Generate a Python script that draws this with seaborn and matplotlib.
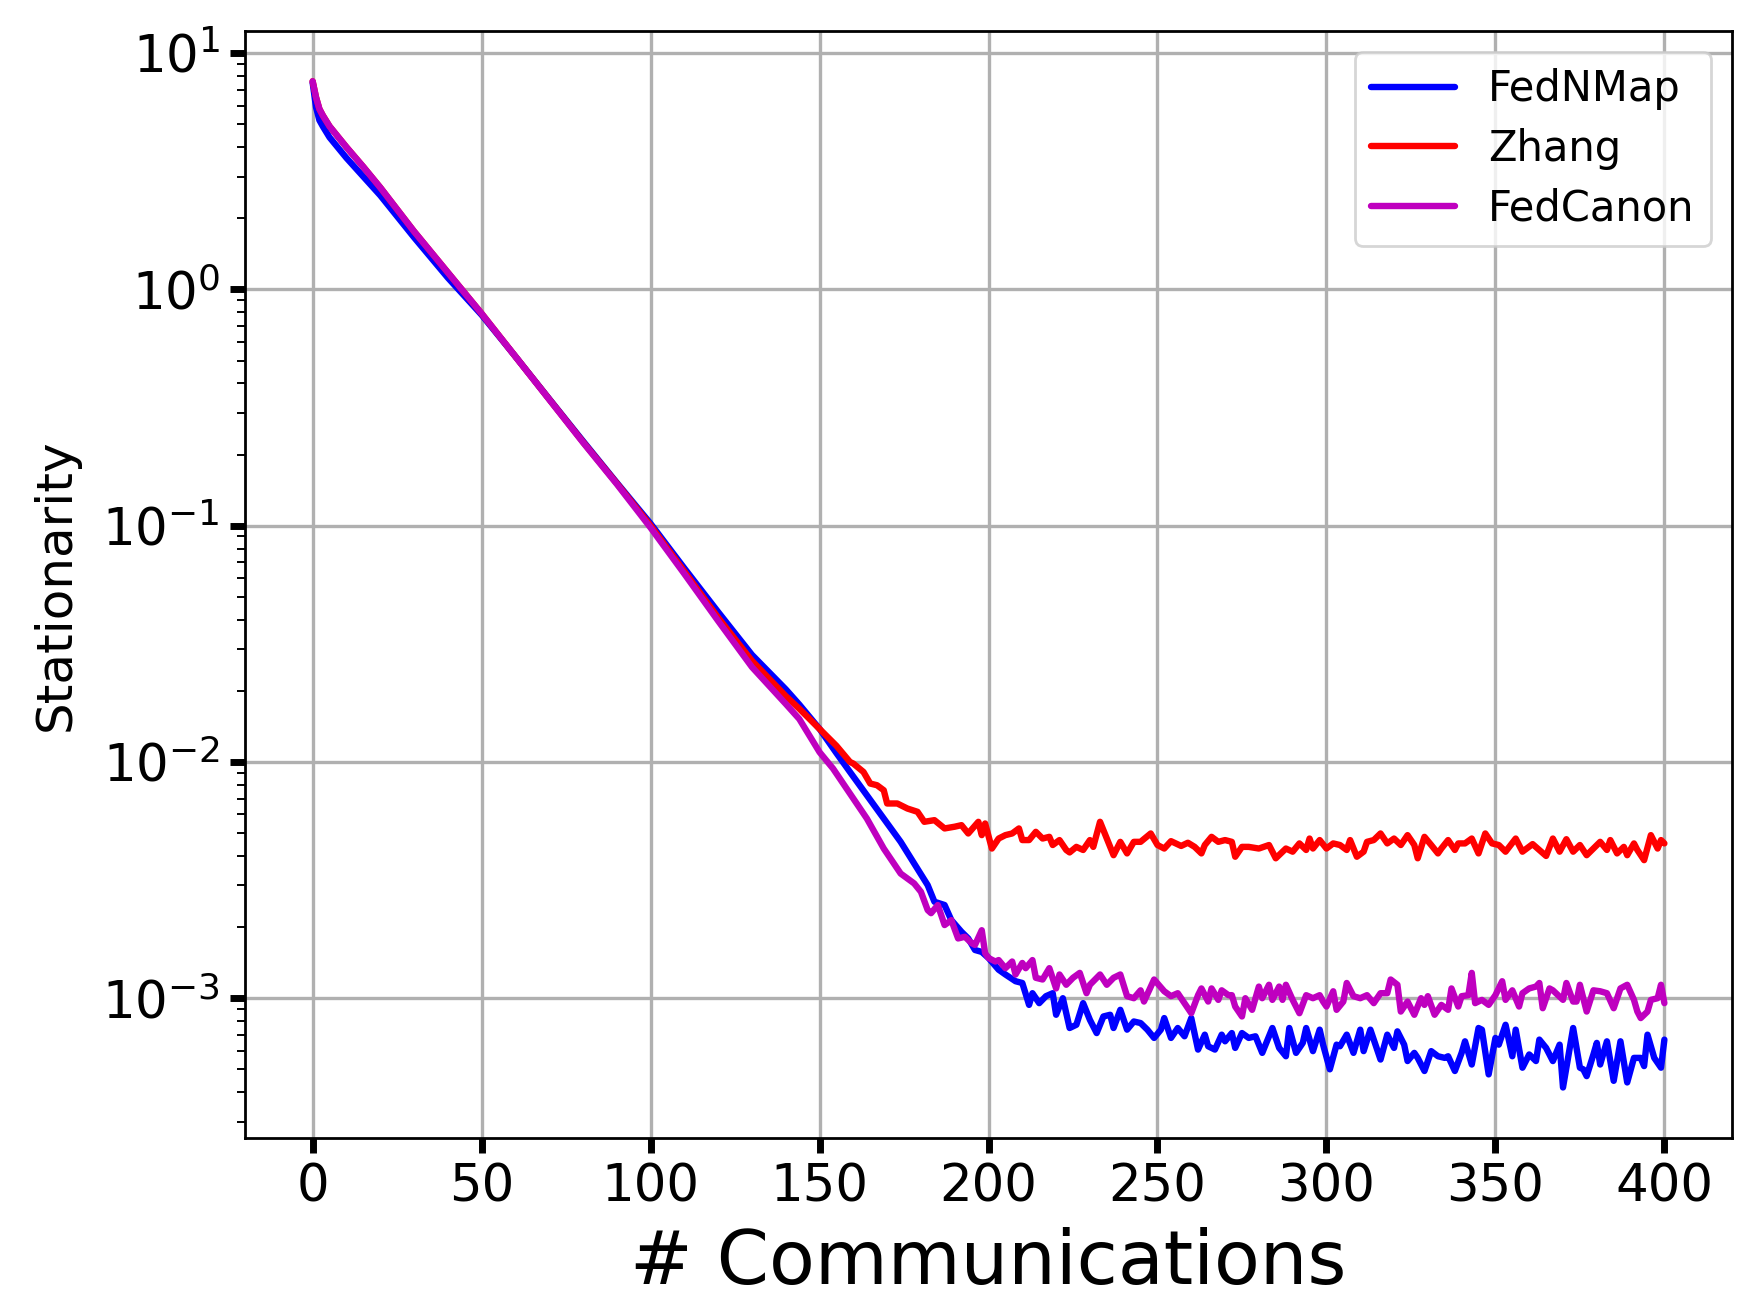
import seaborn as sns
import matplotlib.pyplot as plt

# =========================
# Datos
# =========================
fednmap_x = [0, 1, 2, 3, 5, 10, 15, 20, 30, 40,
             50, 60, 70, 80, 90, 100, 110, 120, 130, 140,
             144, 150, 155, 159, 164, 169, 174, 178, 182, 184,
             187, 189, 192, 194, 196, 198, 200, 203, 205, 208,
             210, 212, 213, 215, 217, 219, 220, 222, 224, 226,
             228, 230, 232, 234, 236, 237, 239, 241, 243, 245,
             247, 249, 251, 252, 254, 256, 258, 260, 262, 264,
             265, 267, 269, 270, 272, 273, 275, 277, 279, 281,
             284, 286, 288, 289, 291, 293, 294, 296, 298, 299,
             301, 303, 304, 306, 308, 310, 311, 313, 314, 316,
             318, 320, 321, 323, 324, 326, 327, 329, 331, 333,
             335, 336, 338, 340, 341, 343, 345, 346, 348, 350,
             351, 353, 355, 356, 358, 360, 362, 363, 365, 367,
             369, 370, 372, 373, 375, 376, 377, 379, 380, 381,
             383, 385, 387, 389, 391, 393, 394, 395, 397, 399,
             400]
fednmap_y = [7.5, 5.9, 5.2, 4.9, 4.4, 3.6, 3.0, 2.5, 1.66, 1.12,
             0.78, 0.52, 0.344, 0.228, 0.152, 0.102, 0.066, 0.0431, 0.0284, 0.0203,
             0.0175, 0.0138, 0.0109, 0.00907, 0.00723, 0.00576, 0.00459, 0.00372, 0.00301, 0.00256,
             0.00248, 0.00214, 0.00191, 0.00179, 0.0016, 0.00157, 0.00148, 0.00132, 0.00126, 0.00118,
             0.00116, 0.000937, 0.00105, 0.000953, 0.00102, 0.00105, 0.000851, 0.001, 0.000748, 0.000772,
             0.000953, 0.00081, 0.000712, 0.000837, 0.000851, 0.000748, 0.000893, 0.000736, 0.000797, 0.000785,
             0.000736, 0.000679, 0.000736, 0.000824, 0.000679, 0.000748, 0.00069, 0.000824, 0.000606, 0.000701,
             0.000626, 0.000606, 0.000701, 0.000657, 0.000712, 0.000616, 0.000712, 0.000679, 0.00069, 0.000587,
             0.000748, 0.000616, 0.000568, 0.000748, 0.000587, 0.000647, 0.000748, 0.000597, 0.000736, 0.000636,
             0.0005, 0.000636, 0.000626, 0.000701, 0.000587, 0.000736, 0.000597, 0.000736, 0.000668, 0.00055,
             0.000701, 0.000616, 0.000724, 0.000636, 0.000542, 0.000587, 0.000559, 0.000492, 0.000597, 0.000568,
             0.000559, 0.000568, 0.000492, 0.000587, 0.000657, 0.000524, 0.000748, 0.000736, 0.000476, 0.000679,
             0.000636, 0.000772, 0.000568, 0.000736, 0.000508, 0.000578, 0.000542, 0.000668, 0.000616, 0.000542,
             0.000636, 0.000419, 0.000616, 0.000748, 0.000508, 0.0005, 0.000468, 0.000578, 0.000647, 0.000524,
             0.000657, 0.000447, 0.000657, 0.00044, 0.000559, 0.000559, 0.000516, 0.000701, 0.000559, 0.000508,
             0.000668]

zhang_x = [0, 1, 2, 3, 5, 10, 15, 20, 30, 40,
           50, 60, 70, 80, 90, 100, 110, 120, 130, 140,
           144, 150, 155, 159, 160, 163, 165, 167, 169, 170,
           173, 176, 179, 181, 184, 187, 190, 192, 194, 197,
           198, 199, 201, 203, 205, 207, 209, 210, 212, 214,
           216, 218, 219, 221, 223, 224, 226, 228, 230, 231,
           233, 235, 237, 239, 241, 243, 245, 248, 250, 252,
           254, 257, 259, 261, 263, 264, 266, 268, 270, 272,
           273, 275, 277, 280, 283, 285, 288, 290, 292, 294,
           295, 296, 298, 300, 302, 304, 306, 307, 309, 311,
           312, 314, 316, 318, 320, 322, 324, 326, 327, 329,
           331, 333, 334, 336, 338, 339, 341, 343, 345, 347,
           349, 351, 353, 356, 358, 361, 363, 365, 367, 369,
           371, 373, 375, 377, 379, 381, 383, 384, 386, 388,
           389, 391, 392, 394, 396, 398, 399, 400]
zhang_y = [7.6, 6.5, 5.8, 5.45, 4.9, 4.0, 3.3, 2.7, 1.76, 1.18,
           0.79, 0.52, 0.343, 0.226, 0.151, 0.1, 0.064, 0.0408, 0.0268, 0.019,
           0.0168, 0.0138, 0.0117, 0.01, 0.00984, 0.00907, 0.0081, 0.00797, 0.00759, 0.00667,
           0.00667, 0.00635, 0.00615, 0.00558, 0.00567, 0.00523, 0.00532, 0.0054, 0.00498, 0.00558,
           0.0049, 0.00549, 0.0043, 0.00474, 0.0049, 0.00498, 0.00523, 0.00467, 0.00467, 0.00506,
           0.00474, 0.00482, 0.00445, 0.00467, 0.00424, 0.00414, 0.00437, 0.00424, 0.00467, 0.00437,
           0.00558, 0.00474, 0.00403, 0.00459, 0.0041, 0.00459, 0.00459, 0.00498, 0.00445, 0.0043,
           0.00462, 0.00441, 0.00455, 0.00437, 0.0041, 0.00445, 0.00482, 0.00459, 0.00467, 0.00459,
           0.00397, 0.00437, 0.00437, 0.0043, 0.00445, 0.00391, 0.0043, 0.00417, 0.00452, 0.00424,
           0.00474, 0.0043, 0.00467, 0.0043, 0.00452, 0.00445, 0.00424, 0.00467, 0.00397, 0.00417,
           0.00459, 0.00467, 0.00498, 0.00452, 0.00474, 0.00445, 0.0049, 0.00445, 0.00391, 0.00482,
           0.00445, 0.0041, 0.0043, 0.00467, 0.00424, 0.00452, 0.00452, 0.00474, 0.0041, 0.00498,
           0.00452, 0.00445, 0.00417, 0.00474, 0.00417, 0.00449, 0.00424, 0.004, 0.00474, 0.00417,
           0.00471, 0.00417, 0.00445, 0.00403, 0.0043, 0.00459, 0.00424, 0.00467, 0.0041, 0.00437,
           0.00403, 0.00452, 0.00424, 0.00384, 0.0049, 0.0043, 0.00467, 0.00452]

fedcanon_x = [0, 1, 2, 3, 5, 10, 15, 20, 30, 40,
              50, 60, 70, 80, 90, 100, 110, 120, 130, 140,
              144, 150, 154, 159, 164, 169, 174, 178, 180, 182,
              183, 185, 187, 189, 191, 193, 195, 196, 198, 199,
              200, 202, 203, 205, 207, 208, 210, 211, 213, 214,
              216, 218, 220, 221, 223, 225, 227, 229, 230, 233,
              235, 237, 239, 241, 243, 245, 246, 249, 252, 254,
              256, 258, 260, 262, 263, 265, 266, 268, 269, 271,
              272, 273, 275, 276, 278, 280, 281, 283, 284, 286,
              287, 288, 290, 292, 294, 296, 298, 299, 300, 302,
              303, 305, 306, 308, 310, 312, 314, 316, 318, 319,
              321, 322, 324, 326, 328, 329, 330, 332, 334, 336,
              337, 339, 340, 342, 343, 344, 346, 348, 350, 352,
              353, 355, 357, 358, 360, 362, 363, 364, 366, 367,
              370, 371, 373, 374, 375, 377, 379, 381, 383, 385,
              387, 389, 391, 392, 393, 395, 396, 398, 399, 400]
fedcanon_y = [7.6, 6.5, 5.8, 5.45, 4.9, 4.0, 3.3, 2.7, 1.76, 1.18,
              0.79, 0.52, 0.342, 0.225, 0.15, 0.098, 0.0625, 0.0395, 0.0252, 0.0176,
              0.0152, 0.011, 0.00937, 0.00735, 0.00576, 0.0043, 0.00337, 0.00306, 0.00282, 0.00236,
              0.00229, 0.00248, 0.00204, 0.00214, 0.00179, 0.00182, 0.00171, 0.00168, 0.00194, 0.00155,
              0.00148, 0.00143, 0.00145, 0.00134, 0.00143, 0.00126, 0.00141, 0.00134, 0.00145, 0.00122,
              0.0012, 0.00134, 0.0011, 0.00126, 0.00114, 0.00122, 0.00128, 0.00105, 0.00114, 0.00126,
              0.00114, 0.00122, 0.00126, 0.00102, 0.001, 0.00108, 0.000968, 0.0012, 0.00107, 0.00102,
              0.00105, 0.000953, 0.000864, 0.00103, 0.0011, 0.000968, 0.0011, 0.000984, 0.00108, 0.00103,
              0.00103, 0.000922, 0.000837, 0.001, 0.000893, 0.00112, 0.001, 0.00114, 0.000984, 0.00112,
              0.000984, 0.00114, 0.000984, 0.000864, 0.00103, 0.001, 0.00103, 0.000968, 0.000922, 0.00107,
              0.000893, 0.000968, 0.00116, 0.00102, 0.001, 0.00103, 0.000953, 0.00105, 0.00105, 0.0012,
              0.00114, 0.000878, 0.000968, 0.000851, 0.001, 0.000937, 0.00102, 0.000851, 0.000937, 0.000893,
              0.0011, 0.000922, 0.00102, 0.00103, 0.00128, 0.000953, 0.000984, 0.000937, 0.00103, 0.00118,
              0.000984, 0.00108, 0.000922, 0.00105, 0.0011, 0.00112, 0.00116, 0.000907, 0.0011, 0.00108,
              0.000984, 0.00116, 0.000968, 0.000968, 0.00114, 0.000878, 0.00108, 0.00107, 0.00105, 0.000907,
              0.0011, 0.00114, 0.000984, 0.000878, 0.000824, 0.000878, 0.000984, 0.001, 0.00114, 0.000953]

series = [("FedNMap", fednmap_x, fednmap_y, "b"),
          ("Zhang", zhang_x, zhang_y, "r"),
          ("FedCanon", fedcanon_x, fedcanon_y, "m")]

# =========================
# Plot
# =========================
sns.set_style("ticks")
plt.rcParams['font.family'] = ['DejaVu Sans']
plt.rcParams.update({
    "text.color": "black",
    "axes.labelcolor": "black",
    "xtick.color": "black",
    "ytick.color": "black",
    "axes.edgecolor": "black",
})

fig, ax = plt.subplots(figsize=(1763 / 200, 1290 / 200), dpi=200)
fig.subplots_adjust(left=0.139, right=0.9824, top=0.976, bottom=0.118)

for name, xs, ys, col in series:
    sns.lineplot(x=xs, y=ys, color=col, label=name, linewidth=2.3, ax=ax)

ax.set_yscale("log")
ax.set_xticks([0, 50, 100, 150, 200, 250, 300, 350, 400])
ax.grid(True, which="major", color="#b0b0b0", linewidth=1.2)
ax.set_axisbelow(True)

ax.tick_params(axis="both", which="major", labelsize=18.5, length=5.5, width=2.5,
               color="black", labelcolor="black")
ax.tick_params(axis="y", which="minor", length=3, width=0.7, color="black")
for sp in ax.spines.values():
    sp.set_linewidth(1.0)
    sp.set_color("black")

# la etiqueta del eje x queda recortada abajo, igual que en la figura original
ax.set_xlabel("# Communications", fontsize=27, labelpad=5)
ax.set_ylabel("Stationarity", fontsize=18, labelpad=8)
ax.legend(loc="upper right", fontsize=15, framealpha=0.8, edgecolor="0.8",
          fancybox=True, labelspacing=0.42)

plt.savefig("out.png", dpi=200)
plt.close(fig)
